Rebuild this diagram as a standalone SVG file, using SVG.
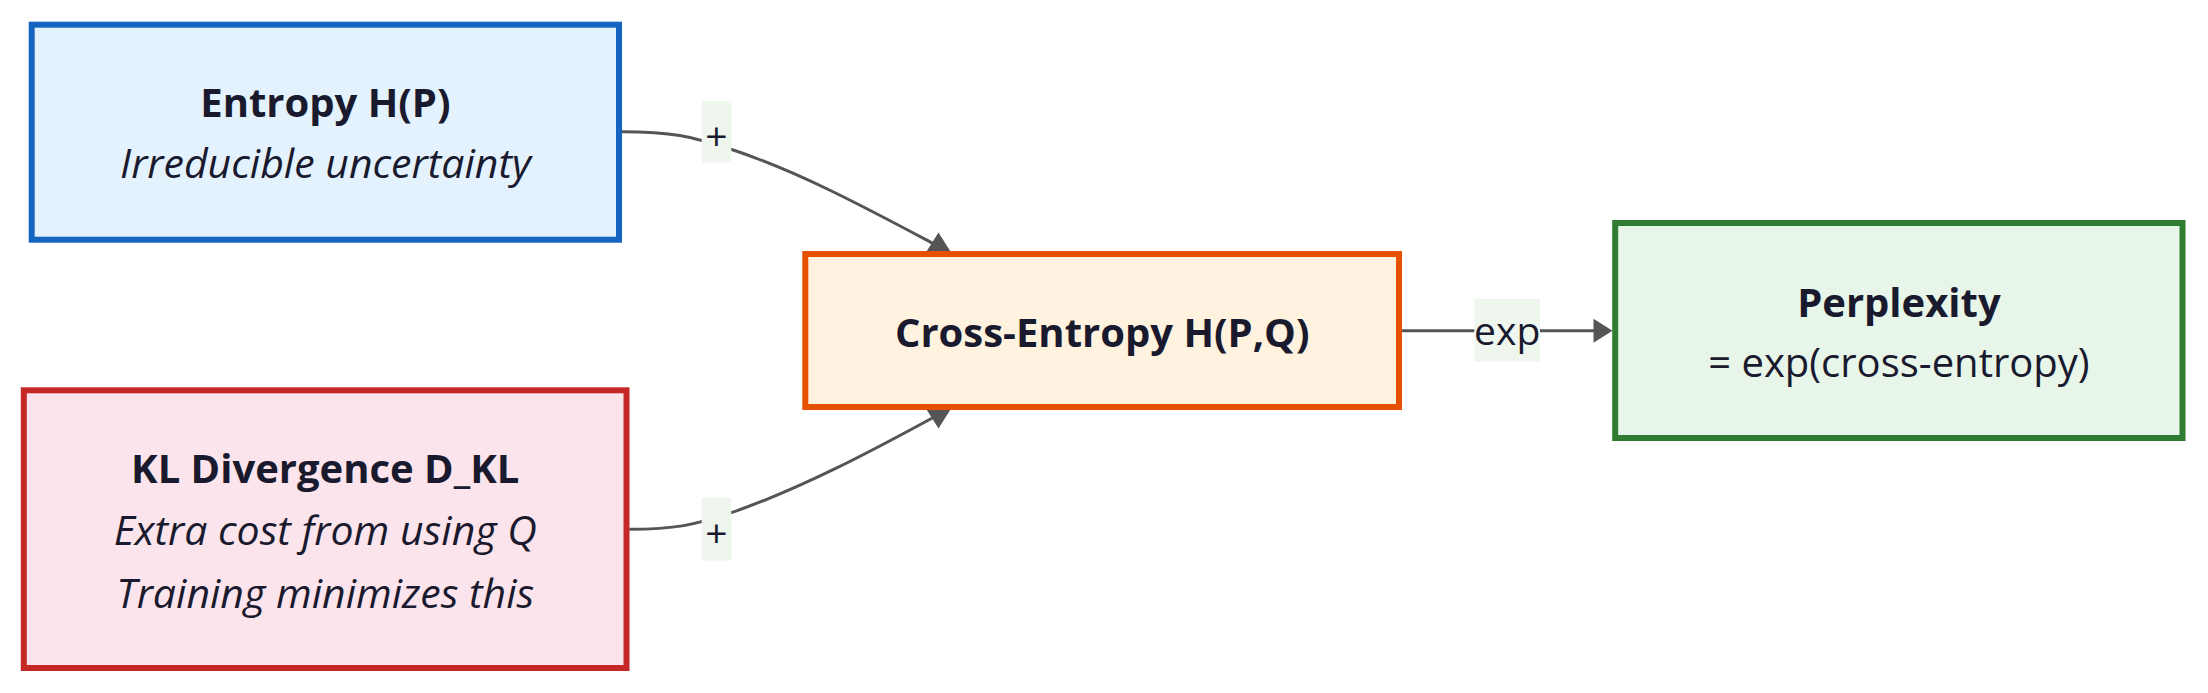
<svg xmlns="http://www.w3.org/2000/svg" width="2208" height="693" viewBox="0 0 2208 693">
  <style>
    text { font-family: "Open Sans", "Noto Sans", "Liberation Sans", sans-serif; fill: #1a1a2e; text-anchor: middle; font-size: 40px; }
    .title { font-weight: 700; }
    .sub { font-style: italic; font-size: 41px; }
    .box { stroke-width: 6; }
    .edge { fill: none; stroke: #555555; stroke-width: 3; }
    .lbl { fill: #eff6ee; }
    .lbltxt { font-size: 39px; }
    .arrow { fill: #555555; }
  </style>
  <defs>
    <path id="arrowUp" d="M0,0 L-12,19 L12,19 Z"/>
  </defs>
  <rect width="2208" height="693" fill="#ffffff"/>

  <g id="connectors">
    <path class="edge" d="M622,131.7 C672,131.7 690,136 731,149.3 C800,172 870,210 936,245"/>
    <path class="edge" d="M629.3,529.3 C675,529.3 695,525 731.3,512.7 C800,489 870,452 936,416"/>
    <path class="edge" d="M1402,330.7 L1594,330.7"/>
    <use class="arrow" href="#arrowUp" transform="translate(938.5,232.5)"/>
    <use class="arrow" href="#arrowUp" transform="translate(938.5,428.5) rotate(180)"/>
    <use class="arrow" href="#arrowUp" transform="translate(1612.5,330.7) rotate(90)"/>
    <g id="label-plus-1">
      <rect class="lbl" x="701.7" y="101" width="29.6" height="61.7"/>
      <text class="lbltxt" x="716.5" y="150">+</text>
    </g>
    <g id="label-plus-2">
      <rect class="lbl" x="701.7" y="497.7" width="29.6" height="63"/>
      <text class="lbltxt" x="716.5" y="547">+</text>
    </g>
    <g id="label-exp">
      <rect class="lbl" x="1474.3" y="299" width="65.7" height="62.7"/>
      <text class="lbltxt" x="1507.2" y="345">exp</text>
    </g>
  </g>

  <g id="node-entropy">
    <rect class="box" x="31.7" y="24.7" width="587.3" height="215" fill="#e3f2fd" stroke="#1565c0"/>
    <text class="title" x="325.4" y="117.3">Entropy H(P)</text>
    <text class="sub" x="325.4" y="178.3">Irreducible uncertainty</text>
  </g>

  <g id="node-kl">
    <rect class="box" x="23.8" y="390.3" width="602.7" height="277.7" fill="#fce4ec" stroke="#c62828"/>
    <text class="title" x="325.2" y="482.7">KL Divergence D_KL</text>
    <text class="sub" x="325.2" y="545">Extra cost from using Q</text>
    <text class="sub" x="325.2" y="608.3">Training minimizes this</text>
  </g>

  <g id="node-crossentropy">
    <rect class="box" x="805.3" y="254" width="593.7" height="153" fill="#fff3e0" stroke="#e65100"/>
    <text class="title" x="1102.2" y="346.7">Cross-Entropy H(P,Q)</text>
  </g>

  <g id="node-perplexity">
    <rect class="box" x="1615.2" y="223" width="567.3" height="215" fill="#e8f5e9" stroke="#2e7d32"/>
    <text class="title" x="1898.9" y="316.7">Perplexity</text>
    <text x="1898.9" y="376.7">= exp(cross-entropy)</text>
  </g>
</svg>
